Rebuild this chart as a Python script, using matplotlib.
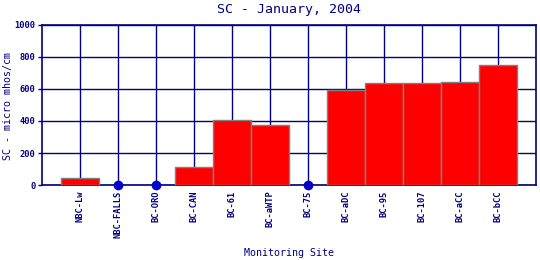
import numpy as np
import matplotlib
matplotlib.use("Agg")
import matplotlib.pyplot as plt

sites = ["NBC-Lw", "NBC-FALLS", "BC-ORO", "BC-CAN", "BC-61", "BC-aWTP", "BC-75",
         "BC-aDC", "BC-95", "BC-107", "BC-aCC", "BC-bCC"]
sc_values = [42, np.nan, np.nan, 115, 407, 372, np.nan, 591, 634, 634, 641, 747]
y_ticks = [0, 200, 400, 600, 800, 1000]

navy = "#000080"
plt.rcParams['font.family'] = ['DejaVu Sans Mono', 'DejaVu Sans']

W, H = 540, 260
fig = plt.figure(figsize=(5.4, 2.6), dpi=100)
ax = fig.add_axes([0.0783, 0.288, 0.915, 0.617])

x = np.arange(1, len(sites) + 1)
vals = np.array(sc_values, dtype=float)
have = ~np.isnan(vals)
ax.bar(x[have], vals[have], width=1.0, color="#ff0000", edgecolor="#808080",
       linewidth=1.0, zorder=3)
miss = np.isnan(vals)
ax.plot(x[miss], np.zeros(miss.sum()), "o", color="#0000cc", markersize=6,
        zorder=4, clip_on=False)

ax.set_xlim(0, len(sites) + 1)
ax.set_ylim(0, 1000)
ax.set_xticks(x)
ax.set_xticklabels(sites, rotation=90, fontsize=6.3, fontweight="bold", color=navy)
ax.set_yticks(y_ticks)
ax.set_yticklabels([str(v) for v in y_ticks], fontsize=6.3, fontweight="bold", color=navy)
ax.tick_params(axis="both", length=3, width=1, color=navy, pad=2)
ax.tick_params(axis="x", length=0, pad=4)
ax.grid(True, color=navy, linewidth=1.0, zorder=1)
ax.set_axisbelow(True)
for s in ax.spines.values():
    s.set_color(navy)
    s.set_linewidth(1.2)

fig.text(289 / W, 1 - 9 / H, "SC - January, 2004", fontsize=9.5, color=navy,
         ha="center", va="center")
fig.text(289 / W, 1 - 253 / H, "Monitoring Site", fontsize=7.2, color=navy,
         ha="center", va="center")
fig.text(8.5 / W, 1 - 106 / H, "SC - micro mhos/cm", fontsize=7.2, color=navy,
         ha="center", va="center", rotation=90)

fig.savefig("out.png", dpi=100)
